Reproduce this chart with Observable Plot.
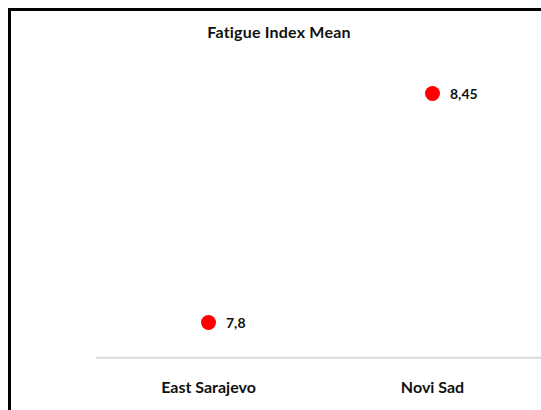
<!DOCTYPE html>
<html><head><meta charset="utf-8">
<script src="https://cdn.jsdelivr.net/npm/d3@7"></script>
<script src="https://cdn.jsdelivr.net/npm/@observablehq/plot@0.6"></script>
<style>
html,body{margin:0;padding:0;background:#fff;}
body{width:541px;height:410px;overflow:hidden;position:relative;font-family:Lato,"Open Sans",sans-serif;}
#frame{position:absolute;left:8px;top:8px;width:700px;height:600px;border:3px solid #000;box-sizing:border-box;}
#title{position:absolute;left:129px;top:24px;width:300px;text-align:center;font-weight:bold;font-size:16px;color:#111;line-height:16px;letter-spacing:0.2px;}
#chart{position:absolute;left:0;top:0;}
</style>
</head><body>
<div id="frame"></div>
<div id="title">Fatigue Index Mean</div>
<div id="chart"></div>
<script>
const cities = ["East Sarajevo", "Novi Sad"];
const means = [7.8, 8.45];
const valueLabels = ["7,8", "8,45"];
const data = cities.map((c, i) => ({city: c, mean: means[i], label: valueLabels[i]}));

const chart = Plot.plot({
  width: 541,
  height: 410,
  marginLeft: 96,
  marginRight: 0,
  marginTop: 0,
  marginBottom: 53,
  style: {background: "transparent", fontFamily: "Lato, 'Open Sans', sans-serif", color: "#111"},
  x: {type: "band", domain: cities, range: [96, 544], padding: 0},
  y: {domain: [7.7, 8.5], range: [357.2, 75.4], axis: null},
  marks: [
    Plot.ruleY([7.7], {stroke: "#d9d9d9", strokeWidth: 2}),
    Plot.axisX({anchor: "bottom", tickSize: 0, tickPadding: 24.6, fontSize: 16, fontWeight: "bold", label: null}),
    Plot.dot(data, {x: "city", y: "mean", r: 7.5, fill: "#ff0000", stroke: "none"}),
    Plot.text(data, {x: "city", y: "mean", text: "label", dx: 17.5, dy: 1.5, textAnchor: "start", fontSize: 14, fontWeight: "bold", fill: "#111"})
  ]
});
document.getElementById("chart").appendChild(chart);
</script>
</body></html>
